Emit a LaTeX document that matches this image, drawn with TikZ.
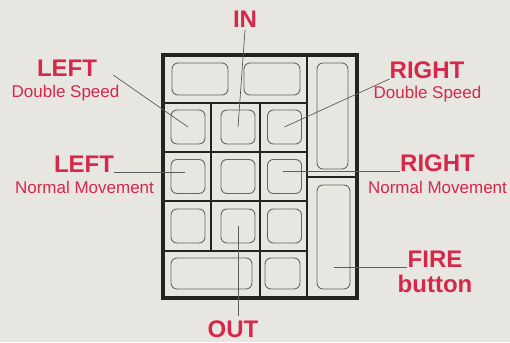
\documentclass[tikz,border=0pt]{standalone}
\usepackage{fontspec}
\setmainfont{Liberation Sans}
\usepackage{tikz}
\usetikzlibrary{positioning}
\definecolor{cred}{HTML}{D6284B}
\definecolor{paper}{HTML}{E8E6E1}
\definecolor{ink}{HTML}{232323}
\definecolor{pen}{HTML}{666666}

\begin{document}
\begin{tikzpicture}[
  x=1pt, y=-1pt,
  big/.style={font=\fontsize{24}{24}\selectfont\bfseries, text=cred, inner sep=0pt, anchor=base},
  small/.style={font=\fontsize{17}{17}\selectfont, text=cred, inner sep=0pt, anchor=base},
  frame/.style={draw=ink, line width=3.2pt},
  grid/.style={draw=ink, line width=2pt},
  btn/.style={rectangle, draw=pen, line width=0.9pt, rounded corners=6pt, inner sep=0pt},
  lead/.style={draw=pen!90!black, line width=0.7pt}
]
\useasboundingbox[fill=paper] (0,0) rectangle (510,342);

% keypad
\draw[frame] (163,55) rectangle (357,298);
\foreach \y in {103,152,201,251}
  \draw[grid] (163,\y) -- (307,\y);
\draw[grid] (307,55) -- (307,298);
\draw[grid] (307,177) -- (357,177);
\draw[grid] (211,103) -- (211,251);
\draw[grid] (260,103) -- (260,298);

\node[btn, minimum width=56pt, minimum height=32pt] (b11) at (200,79) {};
\node[btn, minimum width=56pt, minimum height=32pt] (b12) at (272,79) {};
\node[btn, minimum width=31pt, minimum height=106pt] (up) at (332.5,116) {};
\node[btn, minimum width=33pt, minimum height=104pt] (fire) at (333.5,237) {};
\foreach \r/\y in {2/127,3/176.5,4/226}
  \foreach \c/\x in {1/188,2/238,3/284.5}
    \node[btn, minimum width=34pt, minimum height=34pt] (b\r\c) at (\x,\y) {};
\node[btn, minimum width=81pt, minimum height=31pt] (b51) at (211.5,273.5) {};
\node[btn, minimum width=35pt, minimum height=31pt] (b52) at (282.5,273.5) {};

% labels
\node[big] (inT) at (245,28) {IN};
\node[big] (outT) at (233,337) {OUT};
\node[big] (ldsT) at (67,77) {LEFT};
\node[small] (ldsS) at (65.5,97) {Double Speed};
\node[big] (lnmT) at (84,172) {LEFT};
\node[small] (lnmS) at (84.5,193) {Normal Movement};
\node[big] (rdsT) at (427,78) {RIGHT};
\node[small] (rdsS) at (427.5,98) {Double Speed};
\node[big] (rnmT) at (437.5,171) {RIGHT};
\node[small] (rnmS) at (437.5,193) {Normal Movement};
\node[big] (fireT) at (435,267) {FIRE};
\node[big] (fireS) at (435,292) {button};

% leaders
\draw[lead] ([yshift=-2pt]inT.south) -- (b22.center);
\draw[lead] ([yshift=4pt]outT.north -| b42.center) -- (b42.center);
\draw[lead] ([xshift=16pt,yshift=2pt]ldsT.base east) -- (b21.center);
\draw[lead] (lnmT.base east) -- ([xshift=-3pt]b31.center |- lnmT.base);
\draw[lead] ([yshift=-1pt]rdsT.base west) -- (b23.center);
\draw[lead] (rnmT.base west) -- ([xshift=-2pt]b33.center |- rnmT.base);
\draw[lead] (fireT.base west) -- (fire.center |- fireT.base);

\end{tikzpicture}
\end{document}
